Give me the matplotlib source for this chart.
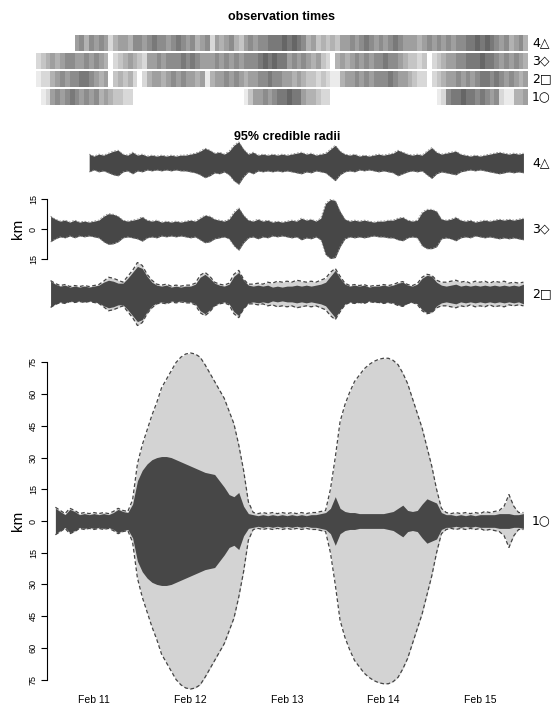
import numpy as np
import matplotlib
matplotlib.use("Agg")
import matplotlib.pyplot as plt

plt.rcParams['font.family'] = ['Liberation Sans', 'DejaVu Sans']

# time is in days after Feb 11 00:00, estimates every STEP days
STEP = 0.05
day_ticks = [0, 1, 2, 3, 4]
day_labels = ["Feb 11", "Feb 12", "Feb 13", "Feb 14", "Feb 15"]
tag_labels = ["4\u25b3", "3\u25c7", "2\u25a1", "1\u25cb"]

# observation density per 0.05 day bin (0 = no observation, 9 = densest)
obs_start = -0.60
obs_tag4 = ("00000000" "5646565" "2" "4554665" "676656" "7656456" "2" "54564" "3"
            "565667" "7787876" "45343435" "565676565" "676555" "456565656" "67787876" "5645645")
obs_tag3 = ("23" "4545665565654" "0" "23" "454" "32" "556566" "676765" "5565656566"
            "6787877" "5656545" "320" "454565656" "67665" "43323" "0" "234" "556"
            "67778776" "565654")
obs_tag2 = ("122" "456566776545" "0" "3434" "2" "0" "2" "455456565545" "1" "455656545"
            "566766554" "54332321" "1" "45565656" "66765" "54322" "0" "234"
            "55656567767656545")
obs_tag1 = ("0" "12" "5656765656" "45" "43" "322" + "0" * 23 + "13" "5565" "677877"
            "5443" "22" + "0" * 22 + "12" "67787767" "656" "211" "445")

# 95% credible radii (km)
tag4_start = -0.05
tag4_inner = [4.5, 3.5, 4.5, 4, 5, 6, 6.5, 4.5, 4, 5.5,
              4, 4.5, 3.5, 4, 3.5, 4, 3.5, 4, 3.5, 4,
              4, 4.5, 5, 6, 7.5, 6.5, 5, 5.5, 4.5, 6,
              9, 10.8, 7, 4.5, 5.5, 4, 4.5, 4, 4.5, 4,
              4.5, 4, 4.5, 5, 5.5, 4.5, 5, 4, 4.5, 5,
              7, 9, 6, 4.5, 4, 4.5, 3.5, 4, 3.5, 4,
              4.5, 4, 4.5, 5, 6.5, 5.5, 4.5, 4, 4.5, 4,
              6, 7.8, 5.5, 4.5, 5, 5.5, 6, 4.5, 4, 3.5,
              4, 3.5, 4, 4.5, 5, 5.5, 5, 4.5, 5, 4.5,
              5]

tag3_start = -0.45
tag3_inner = [6.5, 5, 4, 4.5, 3.5, 4.5, 3.5, 4, 3.5, 4,
              4.5, 6.5, 7.8, 7.5, 6.5, 4.5, 4, 4.5, 5, 6.2,
              4.5, 4, 4.5, 3.5, 4, 3.5, 4, 3.5, 4, 4.5,
              4, 5.5, 7, 6.5, 5, 4.5, 4, 5, 8.5, 10.8,
              7, 4.5, 4, 5, 4, 4.5, 3.5, 4, 3.5, 4,
              4.5, 4, 5.5, 4.5, 5, 4, 5.5, 13, 15, 14.5,
              9, 5, 4, 4.5, 4, 4.5, 4, 3.5, 4, 4,
              4.5, 4.5, 5.5, 6, 4.5, 4, 4.5, 8.5, 10, 10,
              9, 5, 4.5, 5, 6, 4.5, 4, 4.5, 3.5, 4,
              4.5, 4, 4.5, 5, 4.5, 5, 4.5, 5, 5.5]

tag2_start = -0.45
tag2_inner = [6.5, 5, 4, 4.5, 3.5, 4, 3.5, 4, 3.5, 4,
              4.5, 6, 7, 6.5, 5.5, 5.5, 8, 11, 14, 13,
              9, 6, 4.5, 4, 4.5, 3.5, 4, 3.5, 4, 4,
              5, 8.5, 10, 8, 5.5, 4.5, 4, 5, 9, 11,
              7, 4.5, 4, 4.5, 4, 4.5, 3.5, 4, 3.5, 4,
              4, 4.5, 4, 4.5, 4, 4.5, 5, 6, 9, 12,
              8, 5, 4, 4.5, 4, 4.5, 3.5, 4, 4, 4.5,
              4, 4.5, 5.5, 6, 4.5, 4, 5, 8, 9.5, 9,
              6, 4.5, 4, 4.5, 5, 4, 4.5, 4, 4.5, 4,
              4.5, 4, 4.5, 4, 4.5, 4, 4.5, 4, 5]
tag2_outer = [6.8, 5.3, 4.3, 4.8, 3.8, 4.3, 3.8, 4.3, 3.8, 4.3,
              4.8, 6.5, 8.5, 8, 7, 6, 9, 12, 16, 14.5,
              10, 7, 5, 4.5, 5, 4, 4.5, 4, 4.5, 4.5,
              5.5, 9.5, 11, 9, 6, 5, 4.5, 5.5, 10, 12,
              7.5, 5, 5, 5.5, 5, 6, 5.5, 6.5, 6, 6.5,
              6, 7, 6.5, 6, 6.5, 6, 7, 8, 11, 13,
              9, 5.5, 4.3, 4.8, 4.3, 4.8, 3.8, 4.3, 4.3, 4.8,
              4.3, 4.8, 5.8, 6.3, 4.8, 4.3, 5.3, 8.5, 10, 9.5,
              7, 6, 6, 6.5, 7, 6, 6.5, 5.5, 6.5, 6,
              6.5, 5.5, 6.5, 6, 6.5, 5.5, 6, 5.5, 6]

tag1_start = -0.40
tag1_inner = [6, 4.5, 3, 5.5, 4.5, 3, 3.5, 3, 3.5, 3,
              3.5, 3, 4, 5.5, 4.5, 4, 8, 19, 24, 27,
              29, 30, 30.5, 30.5, 30, 29, 28, 27, 26, 25,
              24, 23, 22.5, 22, 19, 16, 12.5, 11.5, 13.5, 7,
              3.5, 3, 2.5, 3, 2.5, 3, 2.5, 3, 2.5, 3,
              2.5, 3, 2.5, 3, 3, 3.5, 4, 6, 11.5, 6,
              4.5, 4, 4, 3.5, 3.5, 3.5, 3.5, 3.5, 3.5, 4,
              4.5, 6, 7.5, 5, 4.5, 5, 8, 10.5, 9.5, 8.5,
              4, 3, 3, 2.5, 3, 2.5, 3, 2.5, 3, 3,
              3, 3, 3.5, 3.5, 3.5, 3, 3, 3.5]
tag1_outer = [6.5, 5, 3.5, 6, 5, 3.5, 4, 3.5, 4, 3.5,
              4, 3.5, 4.5, 6, 5, 4.5, 10, 27, 36, 43,
              50, 56, 63, 67, 71, 75, 77.5, 79, 79.5, 79,
              77.5, 74, 70, 66, 62, 58, 52, 46, 36, 24,
              9, 4, 3.5, 4, 3.5, 4, 3.5, 4, 3.5, 4,
              3.5, 4, 3.5, 4, 4, 4.5, 5, 15, 30, 47,
              55, 61, 66, 69, 72, 74, 75.5, 76.5, 77, 77,
              76, 74, 70, 65, 58, 51, 44, 35, 26, 15,
              6, 4, 3.5, 4, 3.5, 4, 3.5, 4, 3.5, 4.5,
              4, 4.5, 5, 7, 12.5, 7, 4, 4]

DARK = "#474747"
LIGHT = "#d3d3d3"
W, H = 556, 715


def box(x0, y0, x1, y1):
    # pixel box (top-left origin) -> figure fraction rect
    return [x0 / W, 1 - y1 / H, (x1 - x0) / W, (y1 - y0) / H]


def times(start, vals):
    return start + STEP * np.arange(len(vals))


def bare(ax):
    for s in ax.spines.values():
        s.set_visible(False)
    ax.set_xticks([])
    ax.set_yticks([])
    ax.patch.set_alpha(0)


def draw_radii(ax, start, inner, outer=None):
    t = times(start, inner)
    r_in = np.array(inner)
    if outer is not None:
        r_out = np.array(outer)
        ax.fill_between(t, -r_out, r_out, color=LIGHT, lw=0)
        for sgn in (1, -1):
            ax.plot(t, sgn * r_out, color="#444444", lw=0.9, ls=(0, (3, 2)))
    ax.fill_between(t, -r_in, r_in, color=DARK, lw=0)
    if outer is None:
        for sgn in (1, -1):
            ax.plot(t, sgn * r_in, color="#8a8a8a", lw=0.6, ls=(0, (2, 2)))


fig = plt.figure(figsize=(W / 100, H / 100), dpi=100)

# observation times strip
ax_obs = fig.add_axes(box(36, 35, 528, 105))
bare(ax_obs)
rows = [obs_tag4, obs_tag3, obs_tag2, obs_tag1]
for i, row in enumerate(rows):
    dens = np.array([int(c) for c in row], dtype=float)
    gray = np.where(dens > 0, 1 - 0.075 * dens, 1.0)
    rgb = np.repeat(gray[None, :, None], 3, axis=2)
    y0 = i * 18
    ax_obs.imshow(rgb, extent=(obs_start, obs_start + STEP * len(dens), y0 + 16, y0),
                  aspect="auto", interpolation="nearest")
    fig.text(532 / W, 1 - (43 + 18 * i) / H, tag_labels[i], fontsize=9,
             va="center", ha="left", family="DejaVu Sans")
ax_obs.set_xlim((36 - 94) / 96.5, (528 - 94) / 96.5)
ax_obs.set_ylim(70, 0)
fig.text(282 / W, 1 - 17 / H, "observation times", fontsize=9, fontweight="bold",
         ha="center", va="center")

xlim = ((47 - 94) / 96.5, (528 - 94) / 96.5)

ax4 = fig.add_axes(box(47, 130.5, 528, 195.5))
ax3 = fig.add_axes(box(47, 196.5, 528, 261.5))
ax2 = fig.add_axes(box(47, 261.5, 528, 326.5))
ax1 = fig.add_axes(box(47, 349.8, 528, 692.2))

draw_radii(ax4, tag4_start, tag4_inner)
draw_radii(ax3, tag3_start, tag3_inner)
draw_radii(ax2, tag2_start, tag2_inner, tag2_outer)
draw_radii(ax1, tag1_start, tag1_inner, tag1_outer)

for ax in (ax4, ax3, ax2):
    bare(ax)
    ax.set_xlim(*xlim)
    ax.set_ylim(-16.5, 16.5)
bare(ax1)
ax1.set_xlim(*xlim)
ax1.set_ylim(-81, 81)

fig.text(287 / W, 1 - 137 / H, "95% credible radii", fontsize=9, fontweight="bold",
         ha="center", va="center")

# y axes with absolute km labels
for ax, ticks in ((ax3, [-15, 0, 15]), (ax1, list(range(-75, 76, 15)))):
    ax.spines["left"].set_visible(True)
    ax.spines["left"].set_bounds(ticks[0], ticks[-1])
    ax.spines["left"].set_linewidth(0.8)
    ax.set_yticks(ticks, [str(abs(v)) for v in ticks])
    ax.tick_params(axis="y", length=4, width=0.8, pad=2.5, labelsize=6.5)
    for lab in ax.get_yticklabels():
        lab.set_rotation(90)
        lab.set_va("center")
    ax.set_ylabel("km", fontsize=11, labelpad=3)

ax1.set_xticks(day_ticks, day_labels)
ax1.tick_params(axis="x", length=0, pad=2, labelsize=7.5)

centres = [163, 229, 294, 521]
for lab, yc in zip(tag_labels, centres):
    fig.text(532 / W, 1 - yc / H, lab, fontsize=9, va="center", ha="left",
             family="DejaVu Sans")

fig.savefig("out.png", dpi=100)
